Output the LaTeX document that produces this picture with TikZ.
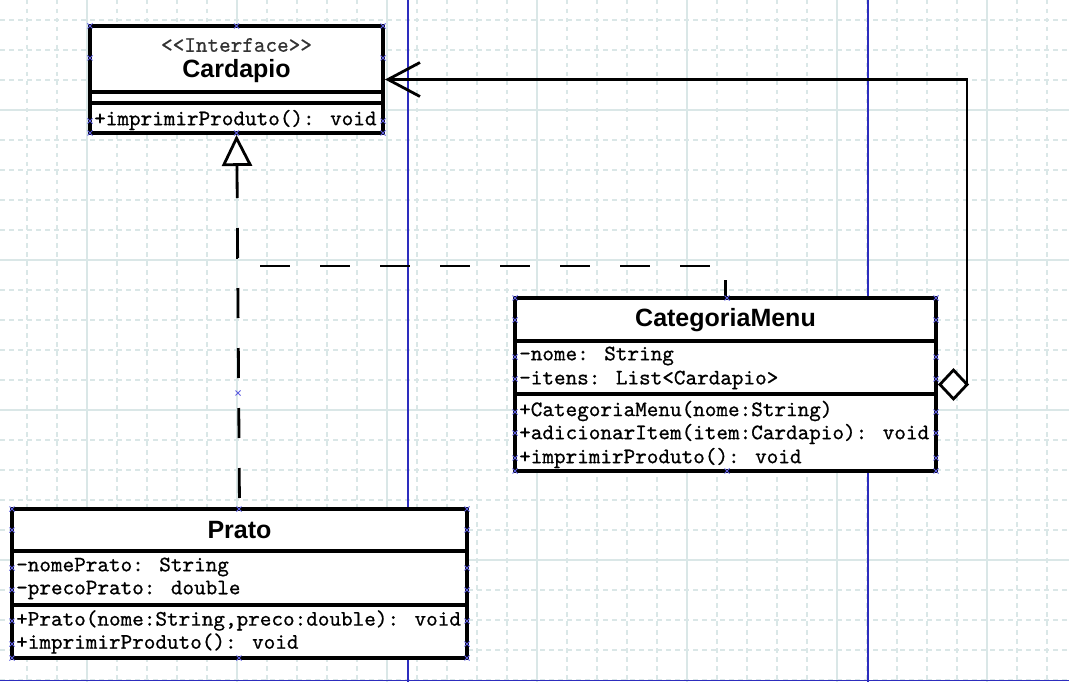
\documentclass[tikz,border=0pt]{standalone}
\usepackage{fontspec}
\setmainfont{Liberation Sans}
\newfontfamily\umlsans{Liberation Sans}
\newfontfamily\umlmono{lmmono10-regular.otf}[BoldFont=lmmono10-regular.otf, BoldFeatures={FakeBold=0.7}]
\usetikzlibrary{arrows.meta}
\definecolor{gridc}{RGB}{218,231,231}
\definecolor{bluel}{RGB}{45,45,190}
\definecolor{handc}{RGB}{95,95,225}
\tikzset{
  umlbox/.style={draw=black, line width=4pt, fill=white, inner sep=0pt},
  sepline/.style={line width=4pt},
  mtext/.style={anchor=west, inner sep=0pt, font=\umlmono\bfseries\fontsize{22.1}{24}\selectfont},
  sttext/.style={inner sep=0pt, text=black!80, font=\umlmono\bfseries\fontsize{22.1}{24}\selectfont},
  ntext/.style={inner sep=0pt, font=\umlsans\bfseries\fontsize{25}{29}\selectfont},
  conn/.style={line width=2.8pt},
  dashconn/.style={conn, dash pattern=on 30pt off 30pt},
  gridminor/.style={gridc, line width=1.2pt, dash pattern=on 4.5pt off 4.5pt},
  gridmajor/.style={gridc, line width=1.3pt},
  blueline/.style={bluel, line width=1.5pt},
  hmark/.style={handc, line width=0.9pt}
}
\begin{document}
\begin{tikzpicture}[x=1pt, y=-1pt]
\useasboundingbox (0,0) rectangle (1069,682);
\fill[white] (0,0) rectangle (1069,682);
% grid
\foreach \x in {27,57,...,1067} \draw[gridminor] (\x,0) -- (\x,682);
\foreach \y in {20,50,...,680} \draw[gridminor] (0,\y) -- (1069,\y);
\foreach \x in {87,237,...,987} \draw[gridmajor] (\x,0) -- (\x,682);
\foreach \y in {110,260,410,560} \draw[gridmajor] (0,\y) -- (1069,\y);
% blue lines
\draw[blueline] (408,0) -- (408,682);
\draw[blueline] (868,0) -- (868,682);
\draw[blueline] (0,680.5) -- (1069,680.5);

% Cardapio
\node[umlbox, minimum width=293pt, minimum height=107pt] (card) at (236.5,79.5) {};
\draw[sepline] (90,92) -- (383,92);
\draw[sepline] (90,103) -- (383,103);
\node[sttext] (cardst) at (236.5,45) {<\kern0pt<Interface>\kern0pt>};
\node[ntext] (cardnm) at (236.5,71) {Cardapio};
\node[mtext] (cardm1) at (94,120) {+imprimirProduto(): void};

% CategoriaMenu
\node[umlbox, minimum width=421pt, minimum height=173pt] (cat) at (725.5,384.5) {};
\draw[sepline] (515,341) -- (936,341);
\draw[sepline] (515,394) -- (936,394);
\node[ntext] (catnm) at (725.5,320) {CategoriaMenu};
\node[mtext] (cata1) at (519,356) {-nome: String};
\node[mtext] (cata2) at (519,380) {-itens: List<Cardapio>};
\node[mtext] (catm1) at (519,411) {+CategoriaMenu(nome:String)};
\node[mtext] (catm2) at (519,434) {+adicionarItem(item:Cardapio): void};
\node[mtext] (catm3) at (519,458) {+imprimirProduto(): void};

% Prato
\node[umlbox, minimum width=455pt, minimum height=149pt] (prato) at (239.5,583.5) {};
\draw[sepline] (12,551) -- (467,551);
\draw[sepline] (12,605) -- (467,605);
\node[ntext] (pratonm) at (239.5,530) {Prato};
\node[mtext] (pratoa1) at (16,567) {-nomePrato: String};
\node[mtext] (pratoa2) at (16,590) {-precoPrato: double};
\node[mtext] (pratom1) at (16,620.5) {+Prato(nome:String,preco:double): void};
\node[mtext] (pratom2) at (16,643.5) {+imprimirProduto(): void};

% connectors
\coordinate (tri) at (237,169);
\draw[dashconn, dash phase=51pt] (prato.north) -- (tri);
\draw[dashconn, dash phase=14pt] (cat.north) -- ++(0,-30) -| (tri);
\draw[conn, -{Triangle[fill=white, length=31pt, width=30pt]}] (tri) -- (card.south);
\draw[conn, {Diamond[fill=white, length=31pt, width=33pt]}-{Straight Barb[length=32pt, width=34pt]}]
  (cat.east) -- ++(29,0) |- (card.east);

% handles
\foreach \p in {(90,26),(236.5,26),(383,26),(90,58),(383,58),(90,121),(383,121),(90,133),(236.5,133),(383,133),
  (515,298),(727,298),(936,298),(515,320),(936,320),(515,357),(936,357),(515,379),(936,379),(515,412),(936,412),
  (515,433),(936,433),(515,458),(936,458),(515,471),(727,471),(936,471),
  (12,509),(239,509),(467,509),(12,530),(467,530),(12,568),(467,568),(12,590),(467,590),(12,621),(467,621),
  (12,644),(467,644),(12,658),(239,658),(467,658),(238,393)}
  \draw[hmark] \p ++(-2.5,-2.5) -- ++(5,5) ++(-5,0) -- ++(5,-5);
\end{tikzpicture}
\end{document}
